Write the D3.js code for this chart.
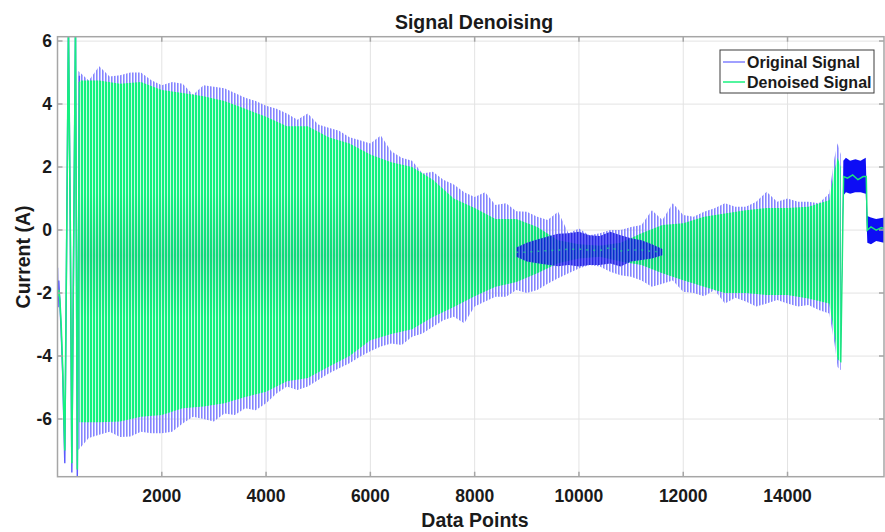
<!DOCTYPE html>
<html>
<head>
<meta charset="utf-8">
<script src="https://cdn.jsdelivr.net/npm/d3@7"></script>
<style>
  body { margin: 0; background: #fff; }
  text { font-family: "Liberation Sans", Arial, sans-serif; font-weight: bold; fill: #1a1a1a; }
</style>
</head>
<body>
<div id="chart"></div>
<script>
// axis ticks
const xTicks = [2000, 4000, 6000, 8000, 10000, 12000, 14000];
const yTicks = [-6, -4, -2, 0, 2, 4, 6];

// start transient (data point index, value)
const startX      = [0, 12, 25, 45, 70, 100, 140, 175, 210, 245, 275, 310, 345, 380, 420];
const origStartY  = [-1.2, -2.45, -1.6, -2.3, -3.2, -4.6, -7.4, -0.5, 6.5, 0.2, -7.7, -0.5, 6.5, -7.9, 4.9];
const denStartY   = [-1.9, -2.1, -1.9, -2.2, -3.0, -4.4, -7.0, -0.5, 6.4, 0.2, -7.4, -0.5, 6.4, -7.6, 4.7];

// original signal: spike envelope
const origX = [400, 600, 800, 1000, 1200, 1400, 1600, 1800, 2000, 2200, 2400, 2600, 2800, 3000, 3200, 3400, 3600, 3800, 4000, 4200,
               4400, 4600, 4800, 5000, 5200, 5400, 5600, 5800, 6000, 6200, 6400, 6600, 6800, 7000, 7200, 7400, 7600, 7800, 8000, 8200,
               8400, 8600, 8800, 9000, 9200, 9400, 9600, 9800, 10000, 10200, 10400, 10600, 10800, 11000, 11200, 11400, 11600, 11800, 12000, 12200,
               12400, 12600, 12800, 13000, 13200, 13400, 13600, 13800, 14000, 14200, 14400, 14600, 14800, 14900, 14960, 15020];
const origUpper = [5.05, 4.75, 5.2, 4.88, 4.92, 5.0, 5.0, 4.76, 4.6, 4.7, 4.65, 4.3, 4.6, 4.55, 4.5, 4.35, 4.2, 4.1, 3.95, 3.85,
                   3.7, 3.5, 3.7, 3.35, 3.25, 3.15, 2.95, 2.85, 2.75, 3.0, 2.5, 2.3, 2.2, 1.8, 1.85, 1.6, 1.45, 1.2, 1.05, 1.2,
                   0.8, 0.85, 0.6, 0.58, 0.42, 0.32, 0.58, -0.1, 0.05, -0.16, -0.1, 0.0, 0.0, 0.1, 0.16, 0.63, 0.32, 0.85, 0.48, 0.42,
                   0.58, 0.69, 0.85, 0.74, 0.74, 0.9, 1.22, 0.9, 1.0, 0.9, 0.9, 0.85, 1.16, 2.3, 2.76, 2.4];
const origLower = [-6.98, -6.6, -6.5, -6.4, -6.57, -6.55, -6.4, -6.45, -6.45, -6.4, -6.14, -5.93, -6.0, -6.08, -5.82, -5.87, -5.66, -5.72, -5.5, -5.19,
                   -4.97, -5.08, -4.97, -4.76, -4.55, -4.39, -4.23, -4.02, -3.85, -3.7, -3.6, -3.65, -3.39, -3.28, -3.07, -2.86, -2.75, -2.96, -2.43, -2.27,
                   -2.12, -2.12, -1.9, -2.0, -1.9, -1.7, -1.53, -1.37, -1.22, -1.11, -1.16, -1.32, -1.43, -1.48, -1.6, -1.8, -1.7, -1.6, -1.96, -2.0,
                   -2.1, -1.9, -2.33, -2.15, -2.27, -2.43, -2.33, -2.22, -2.33, -2.43, -2.38, -2.54, -2.65, -3.6, -4.35, -4.45];

// denoised signal envelope
const denX     = [420, 800, 1200, 1600, 2000, 2400, 2800, 3200, 3600, 4000, 4400, 4800, 5200, 5600, 6000, 6400, 6800, 7200, 7600, 8000,
                  8400, 8800, 9200, 9600, 10000, 10400, 10800, 11200, 11600, 12000, 12400, 12800, 13200, 13600, 14000, 14400, 14800, 14900, 14960, 15020];
const denUpper = [4.75, 4.75, 4.65, 4.7, 4.45, 4.35, 4.25, 4.1, 3.85, 3.6, 3.3, 3.3, 2.95, 2.75, 2.4, 2.15, 2.0, 1.6, 1.0, 0.7,
                  0.35, 0.35, 0.1, -0.32, -0.45, -0.5, -0.4, -0.1, 0.16, 0.22, 0.42, 0.53, 0.63, 0.7, 0.7, 0.74, 0.95, 1.9, 2.3, 2.0];
const denLower = [-6.1, -6.1, -6.08, -5.93, -5.87, -5.66, -5.6, -5.5, -5.3, -5.13, -4.8, -4.7, -4.34, -4.0, -3.5, -3.3, -3.15, -2.76, -2.44, -2.1,
                  -1.8, -1.65, -1.37, -1.05, -0.9, -0.85, -1.0, -1.11, -1.37, -1.59, -1.8, -2.0, -2.0, -2.06, -2.06, -2.17, -2.33, -3.3, -4.1, -4.2];

// noise-dominated core where the original signal is dense
const denseX     = [8800, 9000, 9200, 9400, 9600, 9800, 10000, 10200, 10400, 10600, 10800, 11000, 11200, 11400, 11600];
const denseUpper = [-0.55, -0.4, -0.3, -0.2, -0.12, -0.1, -0.05, -0.16, -0.19, -0.05, -0.16, -0.26, -0.32, -0.45, -0.6];
const denseLower = [-0.85, -1.0, -1.05, -1.1, -1.15, -1.11, -1.16, -1.11, -1.11, -1.06, -1.16, -1.0, -0.95, -0.9, -0.8];

// end: rise and two flat noisy steps
const tailX      = [15020, 15070, 15120, 15200, 15300, 15400, 15500, 15530, 15600, 15700, 15850];
const tailUpper  = [-4.45, 2.2, 2.3, 2.2, 2.25, 2.2, 2.3, 0.45, 0.4, 0.35, 0.4];
const tailLower  = [-4.45, 1.1, 1.2, 1.15, 1.2, 1.2, 1.15, -0.4, -0.45, -0.35, -0.4];
const denTailX   = [15020, 15075, 15150, 15250, 15350, 15450, 15510, 15530, 15600, 15700, 15800, 15850];
const denTailY   = [-4.2, 1.7, 1.65, 1.75, 1.6, 1.7, 1.7, 0.0, 0.1, 0.0, 0.08, 0.05];

const legendItems = ["Original Signal", "Denoised Signal"];

const W = 885, H = 532;
const x = d3.scaleLinear().domain([0, 15850]).range([57.5, 884]);
const y = d3.scaleLinear().domain([-7.83, 6.14]).range([476.7, 36.7]);

const svg = d3.select("#chart").append("svg")
    .attr("width", W)
    .attr("height", H);

const defs = svg.append("defs");
defs.append("clipPath").attr("id", "plotClip")
  .append("rect")
    .attr("x", x.range()[0]).attr("y", y.range()[1])
    .attr("width", x.range()[1] - x.range()[0])
    .attr("height", y.range()[0] - y.range()[1]);

const bp = defs.append("pattern").attr("id", "blueStripe")
    .attr("patternUnits", "userSpaceOnUse").attr("width", 3).attr("height", 10);
bp.append("rect").attr("x", 0).attr("width", 1.6).attr("height", 10).attr("fill", "#8585ff");

const dp = defs.append("pattern").attr("id", "denseStripe")
    .attr("patternUnits", "userSpaceOnUse").attr("width", 3).attr("height", 10);
dp.append("rect").attr("width", 3).attr("height", 10).attr("fill", "#5a5af5");
dp.append("rect").attr("x", 1).attr("width", 1.6).attr("height", 10).attr("fill", "#0000dc");

const gp = defs.append("pattern").attr("id", "greenStripe")
    .attr("patternUnits", "userSpaceOnUse").attr("width", 3).attr("height", 10);
gp.append("rect").attr("width", 3).attr("height", 10).attr("fill", "#c4ffdf");
gp.append("rect").attr("x", 0).attr("width", 2).attr("height", 10).attr("fill", "#12f27f");

const core = defs.append("linearGradient").attr("id", "coreGrad")
    .attr("gradientUnits", "userSpaceOnUse")
    .attr("x1", 0).attr("x2", 0).attr("y1", y(1.2)).attr("y2", y(-2.8));
core.append("stop").attr("offset", 0).attr("stop-color", "#007a6a").attr("stop-opacity", 0);
core.append("stop").attr("offset", 0.5).attr("stop-color", "#007a6a").attr("stop-opacity", 0.2);
core.append("stop").attr("offset", 1).attr("stop-color", "#007a6a").attr("stop-opacity", 0);

defs.append("filter").attr("id", "softer").attr("x", "-10%").attr("y", "-50%").attr("width", "120%").attr("height", "200%")
  .append("feGaussianBlur").attr("stdDeviation", 0.6);

// grid
const g = svg.append("g");
g.selectAll(".gx").data(xTicks).join("line")
    .attr("x1", d => x(d)).attr("x2", d => x(d))
    .attr("y1", y.range()[1]).attr("y2", y.range()[0])
    .attr("stroke", "#e3e3e3").attr("stroke-width", 1);
g.selectAll(".gy").data(yTicks).join("line")
    .attr("x1", x.range()[0]).attr("x2", x.range()[1])
    .attr("y1", d => y(d)).attr("y2", d => y(d))
    .attr("stroke", "#e3e3e3").attr("stroke-width", 1);

// data
const plot = svg.append("g").attr("clip-path", "url(#plotClip)");

const orig = origX.map((v, i) => ({x: v, hi: origUpper[i], lo: origLower[i]}));
const den = denX.map((v, i) => ({x: v, hi: denUpper[i], lo: denLower[i]}));
const dense = denseX.map((v, i) => ({x: v, hi: denseUpper[i], lo: denseLower[i]}));
const tail = tailX.map((v, i) => ({x: v, hi: tailUpper[i], lo: tailLower[i]}));

const band = d3.area().x(d => x(d.x)).y0(d => y(d.lo)).y1(d => y(d.hi));
const line = d3.line().x(d => x(d[0])).y(d => y(d[1]));

plot.append("path").datum(orig).attr("d", band).attr("fill", "url(#blueStripe)");
plot.append("path").datum(startX.map((v, i) => [v, origStartY[i]])).attr("d", line)
    .attr("fill", "none").attr("stroke", "#5a5aff").attr("stroke-width", 1.4);

plot.append("path").datum(den).attr("d", band).attr("fill", "url(#greenStripe)");
plot.append("path").datum(den).attr("d", band).attr("fill", "url(#coreGrad)");
plot.append("path").datum(startX.map((v, i) => [v, denStartY[i]])).attr("d", line)
    .attr("fill", "none").attr("stroke", "#14f07f").attr("stroke-width", 1.6);

plot.append("path").datum(dense).attr("d", band)
    .attr("fill", "url(#denseStripe)").attr("opacity", 0.78);
plot.append("path").datum(dense.map(d => [d.x, (d.hi + d.lo) / 2])).attr("d", line)
    .attr("fill", "none").attr("stroke", "#22d98a").attr("stroke-width", 1.5)
    .attr("stroke-dasharray", "2,5").attr("opacity", 0.7);

plot.append("path").datum(tail).attr("d", band).attr("fill", "#1010f5").attr("filter", "url(#softer)");
plot.append("path").datum(denTailX.map((v, i) => [v, denTailY[i]])).attr("d", line)
    .attr("fill", "none").attr("stroke", "#19e67d").attr("stroke-width", 1.5);

// axes box
const box = svg.append("g").attr("stroke", "#a6a6a6").attr("stroke-width", 1.5).attr("fill", "none");
box.append("rect")
    .attr("x", x.range()[0]).attr("y", y.range()[1])
    .attr("width", x.range()[1] - x.range()[0])
    .attr("height", y.range()[0] - y.range()[1]);

const tl = 5;
box.selectAll(".tb").data(xTicks).join("path")
    .attr("d", d => `M${x(d)},${y.range()[0]}v${-tl}M${x(d)},${y.range()[1]}v${tl}`);
box.selectAll(".tl").data(yTicks).join("path")
    .attr("d", d => `M${x.range()[0]},${y(d)}h${tl}M${x.range()[1]},${y(d)}h${-tl}`);

// tick labels
svg.append("g").selectAll("text").data(xTicks).join("text")
    .attr("x", d => x(d)).attr("y", 502)
    .attr("text-anchor", "middle").attr("font-size", 17.5)
    .text(d => d);
svg.append("g").selectAll("text").data(yTicks).join("text")
    .attr("x", 52).attr("y", d => y(d) + 6.3)
    .attr("text-anchor", "end").attr("font-size", 17.5)
    .text(d => d);

// titles
svg.append("text").attr("x", 474).attr("y", 29)
    .attr("text-anchor", "middle").attr("font-size", 19.5)
    .text("Signal Denoising");
svg.append("text").attr("x", 475).attr("y", 527)
    .attr("text-anchor", "middle").attr("font-size", 19.5)
    .text("Data Points");
svg.append("text").attr("transform", "translate(30,257) rotate(-90)")
    .attr("text-anchor", "middle").attr("font-size", 19.5)
    .text("Current (A)");

// legend
const lg = svg.append("g");
lg.append("rect").attr("x", 720).attr("y", 50).attr("width", 154).attr("height", 43)
    .attr("fill", "#fff").attr("stroke", "#3c3c3c").attr("stroke-width", 1);
const legendColors = ["#8080ff", "#19f27f"];
legendItems.forEach((t, i) => {
  const ly = 62 + i * 20;
  lg.append("line").attr("x1", 723).attr("x2", 745).attr("y1", ly).attr("y2", ly)
      .attr("stroke", legendColors[i]).attr("stroke-width", 1.5);
  lg.append("text").attr("x", 747).attr("y", ly + 6).attr("font-size", 16).text(t);
});
</script>
</body>
</html>
